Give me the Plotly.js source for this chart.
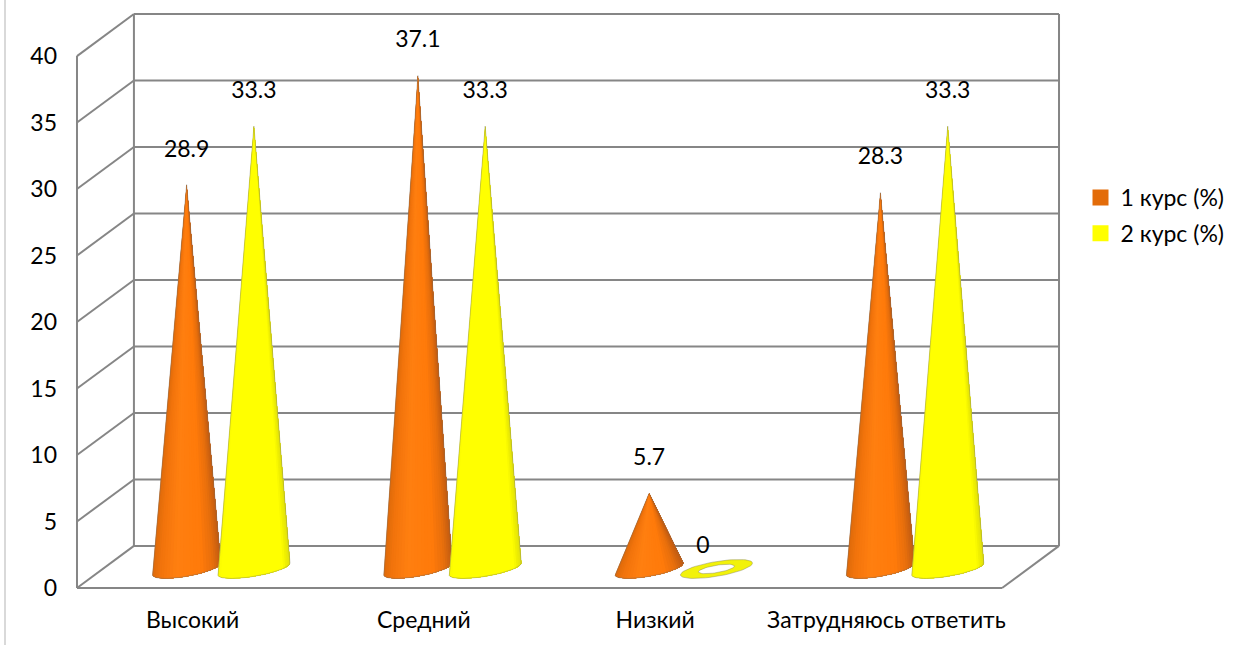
<!DOCTYPE html>
<html>
<head>
<meta charset="utf-8">
<script src="https://cdn.plot.ly/plotly-3.0.1.min.js"></script>
<style>html,body{margin:0;padding:0;background:#fff;overflow:hidden}#chart{width:1241px;height:645px}</style>
</head>
<body>
<div id="chart"></div>
<script>
const categories = ["Высокий", "Средний", "Низкий", "Затрудняюсь ответить"];
const course1 = [28.9, 37.1, 5.7, 28.3];
const course2 = [33.3, 33.3, 0, 33.3];
const seriesNames = ["1 курс (%)", "2 курс (%)"];
const yTicks = [0, 5, 10, 15, 20, 25, 30, 35, 40];

const FONT = 'Lato, "Open Sans", sans-serif';
const FS = 23;
const GRID = '#868686';
const DX = 0.2462, DY = 3.164;           // oblique depth of the box, in axis units
const PADX = 0.0259, PADY = 0.452;       // room round the box so its edges are not cut
const B = 0.56, S = 0.44;                // cone base: half height, tilt
const BASE = 1.43;
const ramp1 = [[0,'#DE6A0A'],[0.12,'#F2740C'],[0.35,'#FF7F10'],[0.72,'#FF7A0A'],[0.88,'#E86F0C'],[1,'#C25C12']];
const ramp2 = [[0,'#FBFB00'],[0.06,'#FFFF00'],[0.9,'#FFFF00'],[0.95,'#EFEF00'],[1,'#E0E010']];
const hex = c => [1,3,5].map(i => parseInt(c.substr(i,2),16));
function rampColor(r,u){
  for(let i=1;i<r.length;i++){
    if(u<=r[i][0]){
      const f=(u-r[i-1][0])/(r[i][0]-r[i-1][0]), a=hex(r[i-1][1]), b=hex(r[i][1]);
      return 'rgb('+a.map((v,j)=>Math.round(v+(b[j]-v)*f)).join(',')+')';
    }
  }
  return r[r.length-1][1];
}
const traces = [];

// box frame, from the axis ticks
const fx=[], fy=[];
const seg=(x0,y0,x1,y1)=>{fx.push(x0,x1,null);fy.push(y0,y1,null);};
const yMax=yTicks[yTicks.length-1], nCat=categories.length;
yTicks.forEach(t=>{ seg(DX,t+DY,nCat+DX,t+DY); seg(0,t,DX,t+DY); });
seg(0,0,0,yMax); seg(DX,DY,DX,yMax+DY); seg(nCat+DX,DY,nCat+DX,yMax+DY);
seg(0,0,nCat,0); seg(nCat,0,nCat+DX,DY);
traces.push({x:fx,y:fy,mode:'lines',line:{color:GRID,width:2},hoverinfo:'skip',showlegend:false,cliponaxis:false});

const N=30;
function addSeries(values, offset, A, ramp, outlineColor){
  const xs=Array.from({length:N},()=>[]), ys=Array.from({length:N},()=>[]);
  const ox=[], oy=[];
  const rx=[], ry=[];
  const pt=(cx,t,k)=>[cx+A*k*Math.cos(t), BASE+(S*Math.cos(t)+B*Math.sin(t))*k];
  values.forEach((v,i)=>{
    const cx=i+offset;
    if(v>0){
      const tipY=BASE+v;
      // each band runs from its left edge to the far right of the base; later bands paint over, so no seams show
      for(let k=0;k<N;k++){
        xs[k].push(cx); ys[k].push(tipY);
        for(let j=k;j<=N;j++){const p=pt(cx,Math.PI+Math.PI*j/N,1);xs[k].push(p[0]);ys[k].push(p[1]);}
        xs[k].push(cx,null); ys[k].push(tipY,null);
      }
      ox.push(cx); oy.push(tipY);
      for(let k=0;k<=N;k++){const p=pt(cx,Math.PI+Math.PI*k/N,1);ox.push(p[0]);oy.push(p[1]);}
      ox.push(cx,null); oy.push(tipY,null);
    } else {
      for(let k=0;k<=60;k++){const p=pt(cx,2*Math.PI*k/60,1);rx.push(p[0]);ry.push(p[1]);}
      rx.push(null); ry.push(null);
      for(let k=60;k>=0;k--){const p=pt(cx,2*Math.PI*k/60,0.5);rx.push(p[0]);ry.push(p[1]);}
      rx.push(null); ry.push(null);
    }
  });
  for(let k=0;k<N;k++){
    const u=(1-Math.cos(Math.PI*(k+0.5)/N))/2;
    const c=rampColor(ramp,u);
    traces.push({x:xs[k],y:ys[k],mode:'none',fill:'toself',fillcolor:c,hoverinfo:'skip',showlegend:false});
  }
  traces.push({x:ox,y:oy,mode:'lines',line:{color:outlineColor,width:0.8},hoverinfo:'skip',showlegend:false});
  if(rx.length){
    traces.push({x:rx,y:ry,mode:'lines',fill:'toself',fillcolor:'#F2F20A',line:{color:'rgba(130,130,90,0.55)',width:0.8},hoverinfo:'skip',showlegend:false});
  }
}
addSeries(course1,0.474,0.148,ramp1,'rgba(120,110,100,0.55)');
addSeries(course2,0.765,0.156,ramp2,'rgba(130,130,100,0.55)');

// value labels
function addLabels(values, offset){
  traces.push({
    x:values.map((v,i)=>i+offset+(v>0?0:-0.058)),
    y:values.map(v=>BASE+v+(v>0?2.55:1.6)),
    text:values.map(String),mode:'text',textposition:'middle center',
    textfont:{family:FONT,size:FS,color:'#000'},hoverinfo:'skip',showlegend:false,cliponaxis:false
  });
}
addLabels(course1,0.474);
addLabels(course2,0.765);

// legend keys
seriesNames.forEach((nm,i)=>{
  traces.push({x:[null],y:[null],name:nm,mode:'markers',legendgroup:nm,
    marker:{symbol:'square',size:16,color:i?'#FFFF00':'#E36C09'}});
});

const layout={
  width:1241,height:645,
  margin:{l:71,r:176,t:8,b:51,pad:0},
  paper_bgcolor:'#fff',plot_bgcolor:'#fff',
  font:{family:FONT,size:FS,color:'#000'},
  xaxis:{range:[-PADX,nCat+DX+PADX],tickmode:'array',tickvals:categories.map((c,i)=>i+0.5),ticktext:categories,
    showgrid:false,zeroline:false,showline:false,ticks:'',ticklabelstandoff:10,fixedrange:true,
    tickfont:{family:FONT,size:FS,color:'#000'}},
  yaxis:{range:[-PADY,yMax+DY+PADY],tickmode:'array',tickvals:yTicks,ticktext:yTicks.map(String),
    showgrid:false,zeroline:false,showline:false,ticks:'',ticklabelstandoff:13,fixedrange:true,
    tickfont:{family:FONT,size:FS,color:'#000'}},
  legend:{x:1.0156,y:0.646,xanchor:'left',yanchor:'middle',tracegroupgap:3,itemwidth:30,
    font:{family:FONT,size:FS,color:'#000'},bgcolor:'rgba(0,0,0,0)'},
  shapes:[{type:'line',xref:'paper',yref:'paper',x0:-66/994,x1:-66/994,y0:-51/586,y1:1+8/586,line:{color:'#D9D9D9',width:2}}],
  showlegend:true
};
Plotly.newPlot('chart',traces,layout,{displayModeBar:false,staticPlot:true});
</script>
</body>
</html>
